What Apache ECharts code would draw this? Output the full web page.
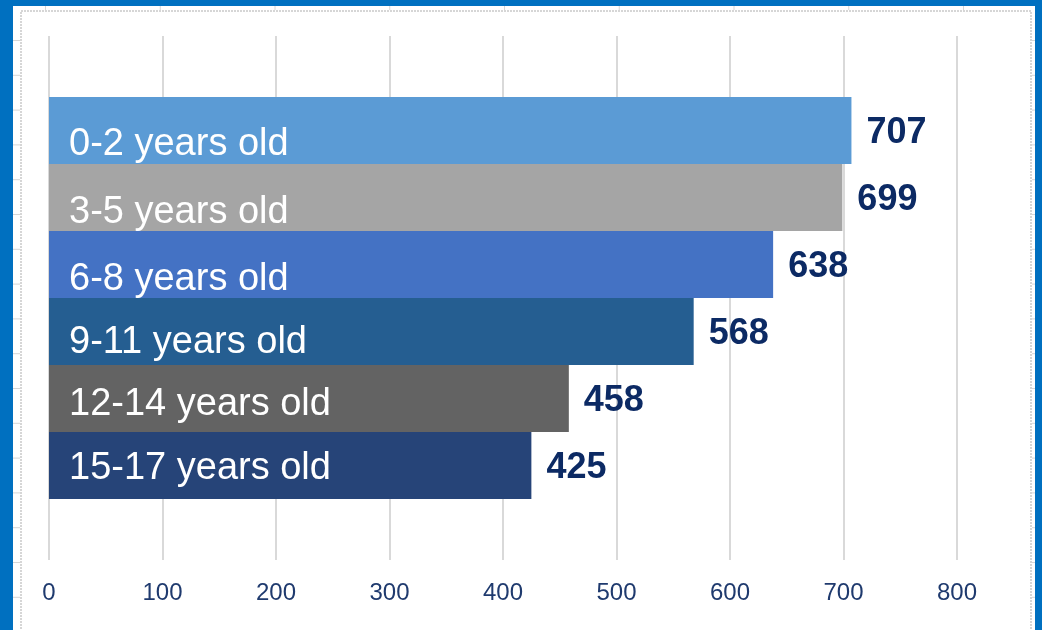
<!DOCTYPE html>
<html>
<head>
<meta charset="utf-8">
<script src="https://cdn.jsdelivr.net/npm/echarts@6/dist/echarts.min.js"></script>
<style>
html,body{margin:0;padding:0;background:#0070C0;}
#chart{width:1042px;height:630px;}
</style>
</head>
<body>
<div id="chart"></div>
<script>
// ---- data ----
var categories = ['0-2 years old', '3-5 years old', '6-8 years old', '9-11 years old', '12-14 years old', '15-17 years old'];
var values = [707, 699, 638, 568, 458, 425];
var tickLabels = ['0', '100', '200', '300', '400', '500', '600', '700', '800'];

// ---- styles ----
var barColors = ['#5B9BD5', '#A5A5A5', '#4472C4', '#255E91', '#636363', '#264478'];
var nameLabelDy = [14, 15, 15, 11, 6, 3];
var FONT = 'Arial, "Liberation Sans", sans-serif';

var chart = echarts.init(document.getElementById('chart'), null, {renderer: 'canvas'});

// decorative spreadsheet frame
var deco = [];
deco.push({type: 'rect', shape: {x: 13, y: 6, width: 1022, height: 630}, style: {fill: '#ffffff'}, z: -10, silent: true});
deco.push({type: 'rect', shape: {x: 21, y: 11, width: 1010, height: 640}, style: {fill: 'none', stroke: '#d6d6d6', lineWidth: 2, lineDash: [2, 1]}, z: -9, silent: true});
for (var k = 0; k < 17; k++) {
  var yy = 40.5 + k * 34.8;
  deco.push({type: 'line', shape: {x1: 13, y1: yy, x2: 20, y2: yy}, style: {stroke: '#d6d6d6', lineWidth: 1}, z: -9, silent: true});
  deco.push({type: 'line', shape: {x1: 1032, y1: yy, x2: 1035, y2: yy}, style: {stroke: '#d6d6d6', lineWidth: 1}, z: -9, silent: true});
}
for (var c = 0; c < 9; c++) {
  var xx = 45.5 + c * 114.75;
  deco.push({type: 'line', shape: {x1: xx, y1: 6, x2: xx, y2: 10}, style: {stroke: '#d6d6d6', lineWidth: 1}, z: -9, silent: true});
}

var barData = values.map(function (v, i) {
  return {
    value: v,
    itemStyle: {color: barColors[i]},
    label: {offset: [0, nameLabelDy[i]]}
  };
});

var option = {
  backgroundColor: 'transparent',
  animation: false,
  graphic: deco,
  grid: [
    {left: 49, right: 85, top: 36, bottom: 70, containLabel: false},
    {left: 49, right: 85, top: 97, height: 402, containLabel: false}
  ],
  xAxis: [
    {
      gridIndex: 0, type: 'value', min: 0, max: 800, interval: 100,
      axisLine: {show: false}, axisTick: {show: false},
      splitLine: {show: true, lineStyle: {color: '#d9d9d9', width: 2}},
      axisLabel: {
        fontSize: 24, color: '#1F3A6E', fontFamily: FONT, margin: 21,
        formatter: function (v) { return tickLabels[Math.round(v / 100)]; }
      }
    },
    {
      gridIndex: 1, type: 'value', min: 0, max: 800, interval: 100, show: false,
      splitLine: {show: false}
    }
  ],
  yAxis: [
    {gridIndex: 0, type: 'value', min: 0, max: 1, show: false, splitLine: {show: false}},
    {gridIndex: 1, type: 'category', data: categories, inverse: true, show: false, boundaryGap: true}
  ],
  series: [
    {
      type: 'bar', xAxisIndex: 1, yAxisIndex: 1,
      data: barData,
      barCategoryGap: 0, barGap: '-100%',
      label: {
        show: true, position: 'insideLeft', distance: 20,
        formatter: '{b}', color: '#ffffff', fontSize: 38, fontFamily: FONT
      },
      silent: true
    },
    {
      type: 'bar', xAxisIndex: 1, yAxisIndex: 1,
      data: values,
      barCategoryGap: 0, barGap: '-100%',
      itemStyle: {color: 'rgba(0,0,0,0)'},
      label: {
        show: true, position: 'right', distance: 15, offset: [0, 3],
        color: '#0C2A64', fontSize: 36, fontWeight: 'bold', fontFamily: FONT
      },
      silent: true
    }
  ]
};
chart.setOption(option);
</script>
</body>
</html>
